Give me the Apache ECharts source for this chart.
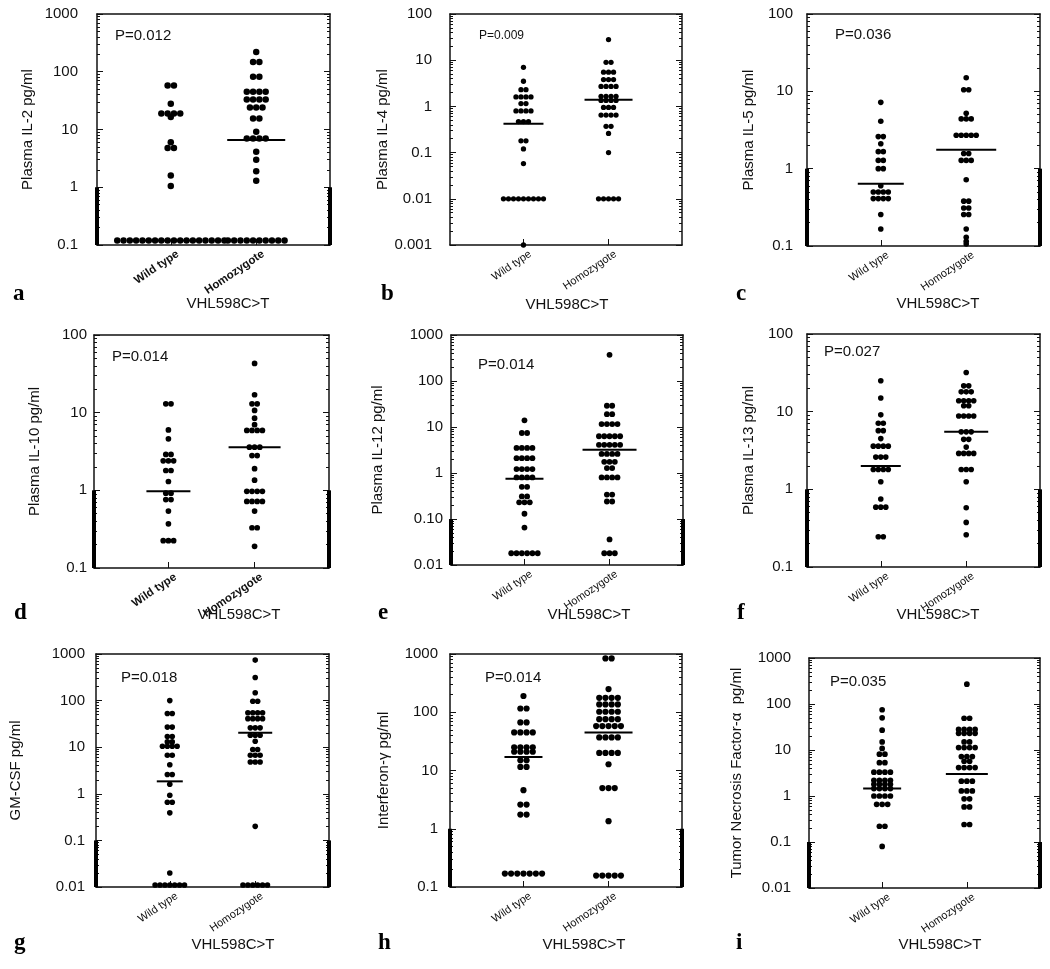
<!DOCTYPE html>
<html><head><meta charset="utf-8">
<script src="https://cdn.jsdelivr.net/npm/echarts@6/dist/echarts.min.js"></script>
<style>html,body{margin:0;padding:0;background:#fff}#c{width:1050px;height:969px}</style>
</head><body><div id="c"></div>
<script>
// ---------------- DATA ----------------
const categories = ['Wild type', 'Homozygote'];
const xTitle = 'VHL598C>T';
// rows: [value, number of dots at that value]
const aName = 'Plasma IL-2 pg/ml', aP = 'P=0.012', aTicks = ['0.1','1','10','100','1000'];
const aWild = [[58,2],[28,1],[19,4],[16.5,1],[6,1],[4.8,2],[1.6,1],[1.05,1],[0.12,18]];
const aHomo = [[220,1],[147,2],[82,2],[45,4],[33,4],[24,3],[15.5,2],[9.1,1],[7,4],[4.1,1],[3,1],[1.9,1],[1.3,1],[0.12,10]];
const aMedian = [0.12, 6.6];

const bName = 'Plasma IL-4 pg/ml', bP = 'P=0.009', bTicks = ['0.001','0.01','0.1','1','10','100'];
const bWild = [[7,1],[3.5,1],[2.3,2],[1.6,4],[1.15,2],[0.8,4],[0.47,3],[0.18,2],[0.12,1],[0.058,1],[0.01,9],[0.001,1]];
const bHomo = [[28,1],[9,2],[5.5,3],[3.8,3],[2.7,4],[1.65,4],[1.35,4],[0.95,3],[0.65,4],[0.37,2],[0.26,1],[0.1,1],[0.01,5]];
const bMedian = [0.42, 1.4];

const cName = 'Plasma IL-5 pg/ml', cP = 'P=0.036', cTicks = ['0.1','1','10','100'];
const cWild = [[7.2,1],[4.1,1],[2.6,2],[2.1,1],[1.66,2],[1.28,2],[1.0,2],[0.6,1],[0.5,4],[0.41,4],[0.255,1],[0.166,1]];
const cHomo = [[15,1],[10.5,2],[5.2,1],[4.4,3],[2.7,5],[1.57,2],[1.28,3],[0.72,1],[0.38,2],[0.31,2],[0.255,2],[0.166,1],[0.13,1],[0.115,1],[0.106,1]];
const cMedian = [0.64, 1.75];

const dName = 'Plasma IL-10 pg/ml', dP = 'P=0.014', dTicks = ['0.1','1','10','100'];
const dWild = [[13,2],[6,1],[4.6,1],[2.9,2],[2.4,3],[1.8,2],[1.3,1],[0.92,2],[0.76,2],[0.54,1],[0.37,1],[0.225,3]];
const dHomo = [[43,1],[17,1],[13,2],[10.7,1],[8.5,1],[7,1],[5.9,4],[3.6,3],[2.8,2],[1.9,1],[1.35,1],[0.97,4],[0.72,4],[0.54,1],[0.33,2],[0.19,1]];
const dMedian = [0.97, 3.6];

const eName = 'Plasma IL-12 pg/ml', eP = 'P=0.014', eTicks = ['0.01','0.10','1','10','100','1000'];
const eWild = [[14,1],[7.4,2],[3.5,4],[2.1,4],[1.22,4],[0.8,4],[0.5,2],[0.31,2],[0.23,3],[0.13,1],[0.065,1],[0.018,6]];
const eHomo = [[370,1],[29,2],[19,2],[11.6,4],[6.3,5],[4.1,5],[2.6,4],[1.75,3],[1.28,2],[0.8,4],[0.34,2],[0.24,2],[0.036,1],[0.018,3]];
const eMedian = [0.75, 3.2];

const fName = 'Plasma IL-13 pg/ml', fP = 'P=0.027', fTicks = ['0.1','1','10','100'];
const fWild = [[25,1],[15,1],[9.1,1],[7.1,2],[5.7,2],[4.5,1],[3.6,4],[2.6,3],[1.8,4],[1.25,1],[0.75,1],[0.59,3],[0.245,2]];
const fHomo = [[32,1],[21.5,2],[18,3],[13.8,4],[11.9,2],[8.8,4],[5.5,3],[4.4,2],[3.5,1],[2.9,4],[1.8,3],[1.25,1],[0.58,1],[0.375,1],[0.26,1]];
const fMedian = [2.0, 5.5];

const gName = 'GM-CSF pg/ml', gP = 'P=0.018', gTicks = ['0.01','0.1','1','10','100','1000'];
const gWild = [[100,1],[53,2],[27,2],[17,2],[13,2],[10.5,4],[6.7,2],[4.2,1],[2.6,2],[1.6,1],[0.93,1],[0.66,2],[0.39,1],[0.02,1],[0.011,7]];
const gHomo = [[740,1],[313,1],[147,1],[97,2],[55,4],[41,4],[26,3],[18,3],[13.4,1],[8.9,2],[6.7,3],[4.8,3],[0.2,1],[0.011,6]];
const gMedian = [1.85, 20.5];

const hName = 'Interferon-\u03B3 pg/ml', hP = 'P=0.014', hTicks = ['0.1','1','10','100','1000'];
const hWild = [[190,1],[116,2],[67,2],[45,4],[25,4],[21,4],[15,2],[11.5,2],[4.6,1],[2.6,2],[1.75,2],[0.17,7]];
const hHomo = [[840,2],[250,1],[177,4],[136,4],[102,4],[76,4],[58,5],[37,4],[20,4],[12.8,1],[5,3],[1.35,1],[0.157,5]];
const hMedian = [17, 45];

const iName = 'Tumor Necrosis Factor-\u03B1  pg/ml', iP = 'P=0.035', iTicks = ['0.01','0.1','1','10','100','1000'];
const iWild = [[75,1],[50,1],[27,1],[15,1],[10.8,1],[8.1,2],[5.3,2],[3.3,4],[2.2,4],[1.8,4],[1.45,4],[1.0,4],[0.66,3],[0.22,2],[0.08,1]];
const iHomo = [[270,1],[49,2],[28,4],[23,4],[15,2],[11.3,4],[7.2,3],[5.7,2],[4.15,4],[2.1,3],[1.29,3],[0.87,2],[0.58,2],[0.24,2]];
const iMedian = [1.45, 3.0];

const letters = ['a','b','c','d','e','f','g','h','i'];

// ---------------- LAYOUT (positions / styles only) ----------------
// sp = dot spacing px, ds = dot diameter px, mh = median half-widths px [wild, homo]
const layout = [
  {l:97, t:14, r:330, b:245, gap:62, lm:19, px:115, py:37, pfs:15, lx:13, ly:297, tx:228, ty:304, bold:true,  bar:true,  sp:6.3, ds:6.5, mh:[26,29]},
  {l:450,t:14, r:682, b:245, gap:59, lm:18, px:479, py:37, pfs:12, lx:381, ly:297, tx:567, ty:305, bold:false, bar:false, sp:5.0, ds:5.3, mh:[20,24]},
  {l:807,t:14, r:1040,b:246, gap:51, lm:14, px:835, py:36, pfs:15, lx:736, ly:297, tx:938, ty:304, bold:false, bar:true,  sp:5.0, ds:5.6, mh:[23,30]},
  {l:94, t:335,r:329, b:568, gap:52, lm:7,  px:112, py:358,pfs:15, lx:14, ly:616, tx:239, ty:615, bold:true,  bar:true,  sp:5.2, ds:5.7, mh:[22,26]},
  {l:451,t:335,r:683, b:565, gap:66, lm:8,  px:478, py:366,pfs:15, lx:378, ly:616, tx:589, ty:615, bold:false, bar:true,  sp:5.3, ds:5.8, mh:[19,27]},
  {l:807,t:334,r:1040,b:567, gap:51, lm:14, px:824, py:353,pfs:15, lx:737, ly:616, tx:938, ty:615, bold:false, bar:true,  sp:5.0, ds:5.6, mh:[20,22]},
  {l:96, t:654,r:329, b:887, gap:73, lm:11, px:121, py:679,pfs:15, lx:14, ly:946, tx:233, ty:945, bold:false, bar:true,  sp:4.9, ds:5.6, mh:[13,17]},
  {l:450,t:654,r:682, b:887, gap:59, lm:12, px:485, py:679,pfs:15, lx:378, ly:946, tx:584, ty:945, bold:false, bar:true,  sp:6.2, ds:6.2, mh:[19,24]},
  {l:809,t:658,r:1040,b:888, gap:65, lm:18, px:830, py:683,pfs:15, lx:736, ly:946, tx:940, ty:945, bold:false, bar:true,  sp:5.5, ds:5.7, mh:[19,21]}
];
const catPos = [0.95, 2.05];   // category centres on a 0..3 x scale
const labelShiftPx = 7;
const FONT = '"Liberation Sans", Arial, sans-serif';

const panels = [
  {name:aName, p:aP, ticks:aTicks, groups:[aWild,aHomo], med:aMedian},
  {name:bName, p:bP, ticks:bTicks, groups:[bWild,bHomo], med:bMedian},
  {name:cName, p:cP, ticks:cTicks, groups:[cWild,cHomo], med:cMedian},
  {name:dName, p:dP, ticks:dTicks, groups:[dWild,dHomo], med:dMedian},
  {name:eName, p:eP, ticks:eTicks, groups:[eWild,eHomo], med:eMedian},
  {name:fName, p:fP, ticks:fTicks, groups:[fWild,fHomo], med:fMedian},
  {name:gName, p:gP, ticks:gTicks, groups:[gWild,gHomo], med:gMedian},
  {name:hName, p:hP, ticks:hTicks, groups:[hWild,hHomo], med:hMedian},
  {name:iName, p:iP, ticks:iTicks, groups:[iWild,iHomo], med:iMedian}
];

const grids = [], xAxes = [], yAxes = [], series = [], graphics = [];
const lineCol = '#111';

panels.forEach((p, i) => {
  const L = layout[i];
  const w = L.r - L.l, h = L.b - L.t;
  grids.push({left: L.l, top: L.t, width: w, height: h});
  const tickVals = p.ticks.map(Number);
  const ymin = tickVals[0], ymax = tickVals[tickVals.length - 1];
  const minor = [];
  for (let e = 0; e < tickVals.length - 1; e++) for (let k = 2; k <= 9; k++) minor.push(+(k * tickVals[e]).toPrecision(6));
  const labelFor = v => {
    let best = 0, bd = Infinity;
    tickVals.forEach((t, j) => { const d = Math.abs(Math.log10(v) - Math.log10(t)); if (d < bd) { bd = d; best = j; } });
    return bd < 0.01 ? p.ticks[best] : '';
  };
  const unit = w / 3;  // px per x unit
  const labPos = catPos.map(c => c + labelShiftPx / unit);
  // x axes
  xAxes.push({type:'value', gridIndex:i, min:0, max:3, position:'bottom',
    axisLine:{show:true, onZero:false, lineStyle:{color:lineCol, width:1.5}},
    axisTick:{show:true, inside:true, length:6, customValues:catPos, lineStyle:{color:lineCol}},
    axisLabel:{show:true, customValues:labPos, rotate:34, margin:8, fontSize: L.bold ? 11.5 : 11, fontFamily:FONT, color:'#111',
      fontWeight: L.bold ? 'bold' : 'normal',
      formatter: v => (Math.abs(v - labPos[0]) < Math.abs(v - labPos[1]) ? categories[0] : categories[1])},
    splitLine:{show:false}});
  xAxes.push({type:'value', gridIndex:i, min:0, max:3, position:'top',
    axisLine:{show:true, onZero:false, lineStyle:{color:lineCol, width:1.5}},
    axisTick:{show:false}, axisLabel:{show:false}, splitLine:{show:false}});
  // y axes: left major, left minor, right major, right minor
  const mk = (pos, major, showLine) => ({type:'log', logBase:10, gridIndex:i, min:ymin, max:ymax, position:pos,
    splitLine:{show:false},
    axisLine:{show:showLine, onZero:false, lineStyle:{color:lineCol, width:1.5}},
    axisTick:{show:true, inside:true, length: major ? 6 : 3, customValues: major ? tickVals : minor, lineStyle:{color:lineCol}},
    axisLabel:{show:false}});
  const yl = mk('left', true, true);
  yl.name = p.name; yl.nameLocation = 'middle'; yl.nameGap = L.gap;
  yl.nameTextStyle = {fontSize:15, fontFamily:FONT, color:'#111'};
  yl.axisLabel = {show:true, customValues:tickVals, margin:L.lm, fontSize:15, fontFamily:FONT, color:'#111', formatter:labelFor};
  yAxes.push(yl, mk('left', false, false), mk('right', true, true), mk('right', false, false));

  const xi = 2 * i, yi = 4 * i;
  const dx = L.sp / unit;
  p.groups.forEach((rows, gi) => {
    const c = catPos[gi];
    const mh = L.mh[gi] / unit;
    const pts = [];
    rows.forEach(([v, n]) => { for (let k = 0; k < n; k++) pts.push([c + (k - (n - 1) / 2) * dx, v]); });
    series.push({type:'scatter', xAxisIndex:xi, yAxisIndex:yi, data:pts, symbol:'circle', symbolSize:L.ds,
      itemStyle:{color:'#000', opacity:1}, z:3, silent:true});
    series.push({type:'line', xAxisIndex:xi, yAxisIndex:yi, data:[[c - mh, p.med[gi]], [c + mh, p.med[gi]]],
      symbol:'none', lineStyle:{color:'#000', width:2}, z:4, silent:true});
  });
  if (L.bar) {
    [0, 3].forEach(xv => series.push({type:'line', xAxisIndex:xi, yAxisIndex:yi, clip:false,
      data:[[xv, ymin], [xv, ymin * 10]], symbol:'none', lineStyle:{color:'#000', width:4}, z:5, silent:true}));
  }
  graphics.push({type:'text', left:L.px, top:L.py - L.pfs * 0.6, style:{text:p.p, fontSize:L.pfs, fontFamily:FONT, fill:'#111'}});
  graphics.push({type:'text', left:L.lx, top:L.ly - 14, style:{text:letters[i], fontSize:23, fontWeight:'bold', fontFamily:'"Liberation Serif", "Times New Roman", serif', fill:'#000'}});
  graphics.push({type:'text', x:L.tx, y:L.ty, style:{text:xTitle, fontSize:15, fontFamily:FONT, fill:'#111', align:'center', verticalAlign:'middle'}});
});

const chart = echarts.init(document.getElementById('c'), null, {renderer:'canvas'});
chart.setOption({animation:false, backgroundColor:'#fff', grid:grids, xAxis:xAxes, yAxis:yAxes, series:series, graphic:graphics});
</script></body></html>
